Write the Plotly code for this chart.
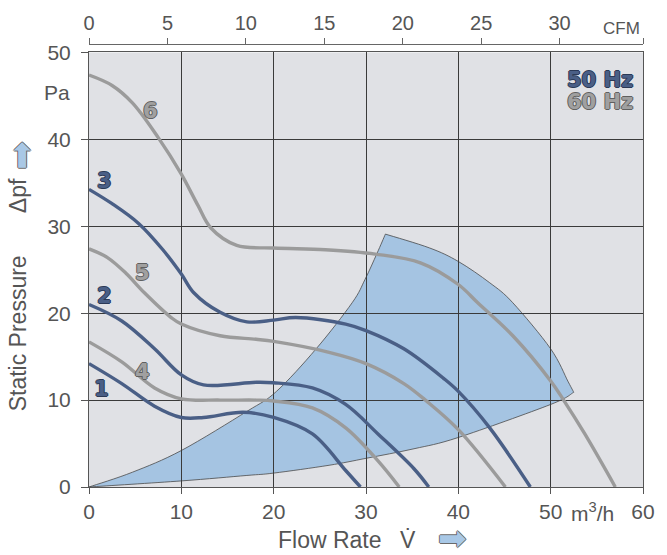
import plotly.graph_objects as go

# ---------------- data (flow rate in m3/h, static pressure in Pa) ----------------
# 50 Hz curves (blue)
c1_x = [0, 3.55, 7.1, 10, 12.4, 16.7, 20, 24.2, 27.8, 29.4]
c1_y = [14.2, 11.9, 9.3, 8.0, 8.0, 8.6, 8.0, 6.1, 1.9, 0]
c2_x = [0, 3.55, 7.1, 10, 12.4, 18.1, 20, 24.2, 27.8, 31.3, 35.2, 36.8]
c2_y = [21.0, 19.1, 15.9, 12.9, 11.75, 12.05, 12.0, 11.4, 9.5, 6.1, 2.1, 0]
c3_x = [0, 2.5, 5.4, 8, 10, 11.35, 14.2, 17.1, 20, 22.4, 27.8, 30, 34.1, 38.4, 40, 43.4, 47.8]
c3_y = [34.25, 32.6, 30.3, 27.3, 24.5, 22.35, 20.1, 19.0, 19.2, 19.5, 18.75, 18.0, 15.9, 12.5, 11.0, 6.8, 0]
# 60 Hz curves (grey)
c4_x = [0, 3.55, 7.1, 10, 14.2, 18.1, 20, 24.2, 27.8, 31.3, 33.6]
c4_y = [16.7, 14.4, 11.4, 10.15, 10.0, 10.0, 9.9, 9.1, 6.8, 3.0, 0]
c5_x = [0, 2, 4, 6, 8.9, 10, 14.2, 18.1, 20, 26, 30, 34.1, 36.6, 40, 45.1]
c5_y = [27.4, 26.4, 24.6, 22.35, 19.5, 18.75, 17.4, 17.0, 16.75, 15.5, 14.2, 11.9, 9.85, 6.6, 0]
c6_x = [0, 2.5, 4.7, 7.5, 10, 11.8, 13.2, 16, 20, 25.6, 31, 35.9, 40, 42.1, 45.9, 50, 51.4, 53.7, 57]
c6_y = [47.4, 46.2, 44.2, 40.2, 36.0, 32.4, 29.8, 27.8, 27.5, 27.3, 26.8, 25.8, 23.3, 21.2, 17.4, 12.2, 10, 6.1, 0]

# recommended operating range (shaded area): three boundary segments
reg_upper_x = [0, 4.7, 10, 17.1, 20.3, 24.6, 28.5, 29.9, 31.2, 32.1]
reg_upper_y = [0, 1.7, 4.2, 8.7, 11.0, 15.9, 21.2, 23.9, 26.9, 29.1]
reg_outer_x = [32.1, 36.9, 40, 43.4, 45.9, 50, 51.9, 52.5]
reg_outer_y = [29.1, 27.5, 25.95, 23.5, 21.2, 15.9, 12.1, 10.9]
reg_lower_x = [52.5, 50, 40, 35.2, 30, 26, 20, 17.1, 10, 0]
reg_lower_y = [10.9, 9.5, 5.7, 4.4, 3.3, 2.5, 1.6, 1.33, 0.7, 0]

# curve numbers and where they are written (data coordinates)
label_text = ["1", "2", "3", "4", "5", "6"]
label_x = [1.4, 1.7, 1.73, 5.75, 5.8, 6.67]
label_y = [11.3, 22.0, 35.2, 13.2, 24.6, 43.3]

x_ticks = [0, 10, 20, 30, 40, 50, 60]
y_ticks = [0, 10, 20, 30, 40, 50]
cfm_ticks = [0, 5, 10, 15, 20, 25, 30]
M3H_PER_CFM = 1.699
X_MAX = 60

BLUE = "#4a5f86"
GREY = "#9b9b9b"
FILL = "#a5c4e2"
TXT = "#555555"
GRID = "#3a3a3a"
FONT = "Liberation Sans, Arial, sans-serif"
BOLD_FONT = "DejaVu Sans"


def bezier_segment(xs, ys, first):
    """Catmull-Rom smoothing of a boundary segment as SVG cubic commands."""
    pts = list(zip(xs, ys))
    out = []
    if first:
        out.append(f"M {pts[0][0]},{pts[0][1]}")
    n = len(pts)
    for i in range(n - 1):
        p0 = pts[i - 1] if i > 0 else pts[i]
        p1 = pts[i]
        p2 = pts[i + 1]
        p3 = pts[i + 2] if i + 2 < n else pts[i + 1]
        c1 = (p1[0] + (p2[0] - p0[0]) / 6, p1[1] + (p2[1] - p0[1]) / 6)
        c2 = (p2[0] - (p3[0] - p1[0]) / 6, p2[1] - (p3[1] - p1[1]) / 6)
        out.append(f"C {c1[0]},{c1[1]} {c2[0]},{c2[1]} {p2[0]},{p2[1]}")
    return " ".join(out)


region_path = (
    bezier_segment(reg_upper_x, reg_upper_y, True) + " "
    + bezier_segment(reg_outer_x, reg_outer_y, False) + " "
    + bezier_segment(reg_lower_x, reg_lower_y, False) + " Z"
)

fig = go.Figure()

curves = [
    (c4_x, c4_y, GREY), (c5_x, c5_y, GREY),
    (c1_x, c1_y, BLUE), (c2_x, c2_y, BLUE), (c3_x, c3_y, BLUE),
]
for cx, cy, col in curves:
    fig.add_trace(go.Scatter(
        x=cx, y=cy, mode="lines",
        line=dict(color=col, width=3.4, shape="spline", smoothing=1.0),
        hoverinfo="skip", showlegend=False,
    ))
# curve 6 is drawn against the CFM axis (same scale, converted units) so that axis is shown
fig.add_trace(go.Scatter(
    x=[v / M3H_PER_CFM for v in c6_x], y=c6_y, mode="lines", xaxis="x2", yaxis="y",
    line=dict(color=GREY, width=3.4, shape="spline", smoothing=1.0),
    hoverinfo="skip", showlegend=False,
))

fig.add_shape(type="path", path=region_path, xref="x", yref="y",
              fillcolor=FILL, line=dict(color="#4a4a4a", width=0.8), layer="below")


def outline(col):
    return f"1px 0 0 {col}, -1px 0 0 {col}, 0 1px 0 {col}, 0 -1px 0 {col}"


annotations = []
for t, lx, ly in zip(label_text, label_x, label_y):
    is_blue = t in ("1", "2", "3")
    annotations.append(dict(
        x=lx, y=ly, xref="x", yref="y", text=t, showarrow=False,
        font=dict(family=BOLD_FONT, size=21, weight="bold",
                  color=BLUE if is_blue else "#a0a0a0",
                  shadow=outline("#2b3956" if is_blue else "#606060")),
    ))

PLOT_TOP = 0.9635
ARROW = dict(family="DejaVu Sans", size=34, color="#a9c8e6", shadow=outline("#6a6a6a"))
annotations += [
    dict(x=0.985, y=0.903, xref="paper", yref="paper", xanchor="right", yanchor="middle",
         text="50 Hz", showarrow=False,
         font=dict(family=BOLD_FONT, size=21, weight="bold", color=BLUE, shadow=outline("#2b3956"))),
    dict(x=0.985, y=0.853, xref="paper", yref="paper", xanchor="right", yanchor="middle",
         text="60 Hz", showarrow=False,
         font=dict(family=BOLD_FONT, size=21, weight="bold", color="#a0a0a0", shadow=outline("#606060"))),
    dict(x=-0.030, y=0.875, xref="paper", yref="paper", xanchor="right", yanchor="middle",
         text="Pa", showarrow=False, font=dict(family=FONT, size=21, color=TXT)),
    dict(x=0.9096, y=-0.0547, xref="paper", yref="paper", xanchor="center", yanchor="middle",
         text="m<sup>3</sup>/h", showarrow=False, font=dict(family=FONT, size=21, color=TXT)),
    dict(x=0.9985, y=1.0175, xref="paper", yref="paper", xanchor="right", yanchor="middle",
         text="CFM", showarrow=False, font=dict(family=FONT, size=17, color=TXT)),
    dict(x=0.435, y=-0.118, xref="paper", yref="paper", xanchor="center", yanchor="middle",
         text="Flow Rate", showarrow=False, font=dict(family=FONT, size=23, color=TXT)),
    dict(x=0.575, y=-0.118, xref="paper", yref="paper", xanchor="center", yanchor="middle",
         text="V\u0307", showarrow=False, font=dict(family=FONT, size=23, color=TXT)),
    dict(x=0.656, y=-0.1138, xref="paper", yref="paper", xanchor="center", yanchor="middle",
         text="\u27a1", showarrow=False, font=ARROW),
    dict(x=-0.128, y=0.341, xref="paper", yref="paper", xanchor="center", yanchor="middle",
         text="Static Pressure", textangle=-90, showarrow=False,
         font=dict(family=FONT, size=23, color=TXT)),
    dict(x=-0.128, y=0.645, xref="paper", yref="paper", xanchor="center", yanchor="middle",
         text="\u0394pf", textangle=-90, showarrow=False,
         font=dict(family=FONT, size=23, color=TXT)),
    dict(x=-0.124, y=0.735, xref="paper", yref="paper", xanchor="center", yanchor="middle",
         text="\u27a1", textangle=-90, showarrow=False, font=ARROW),
]

axis_common = dict(
    ticks="outside", tickcolor="#555555", tickwidth=1,
    showline=True, linecolor="#555555", linewidth=1, mirror=True,
    showgrid=True, gridcolor=GRID, gridwidth=1, zeroline=False,
    tickfont=dict(family=FONT, size=21, color=TXT),
)

fig.update_layout(
    width=667, height=555,
    margin=dict(l=89, r=14, t=30, b=68),
    paper_bgcolor="white", plot_bgcolor="#e0e1e5",
    showlegend=False,
    xaxis=dict(range=[0, X_MAX], tickvals=x_ticks, ticktext=[str(v) for v in x_ticks],
               ticklen=6, **axis_common),
    yaxis=dict(range=[0, 50], tickvals=y_ticks, ticktext=[str(v) for v in y_ticks],
               ticklen=7, ticklabelstandoff=6, domain=[0, PLOT_TOP], **axis_common),
    xaxis2=dict(range=[0, X_MAX / M3H_PER_CFM], overlaying="x", side="top", anchor="free",
                position=0.9818,
                tickvals=cfm_ticks + [X_MAX / M3H_PER_CFM],
                ticktext=[str(v) for v in cfm_ticks] + [""],
                ticks="outside", ticklen=6, tickcolor="#666666",
                showline=True, linecolor="#666666", linewidth=1,
                showgrid=False, zeroline=False,
                tickfont=dict(family=FONT, size=20, color=TXT)),
    annotations=annotations,
)

fig.write_html("out.html", config={"displayModeBar": False},
               post_script="document.body.style.margin='0';document.body.style.overflow='hidden';")
